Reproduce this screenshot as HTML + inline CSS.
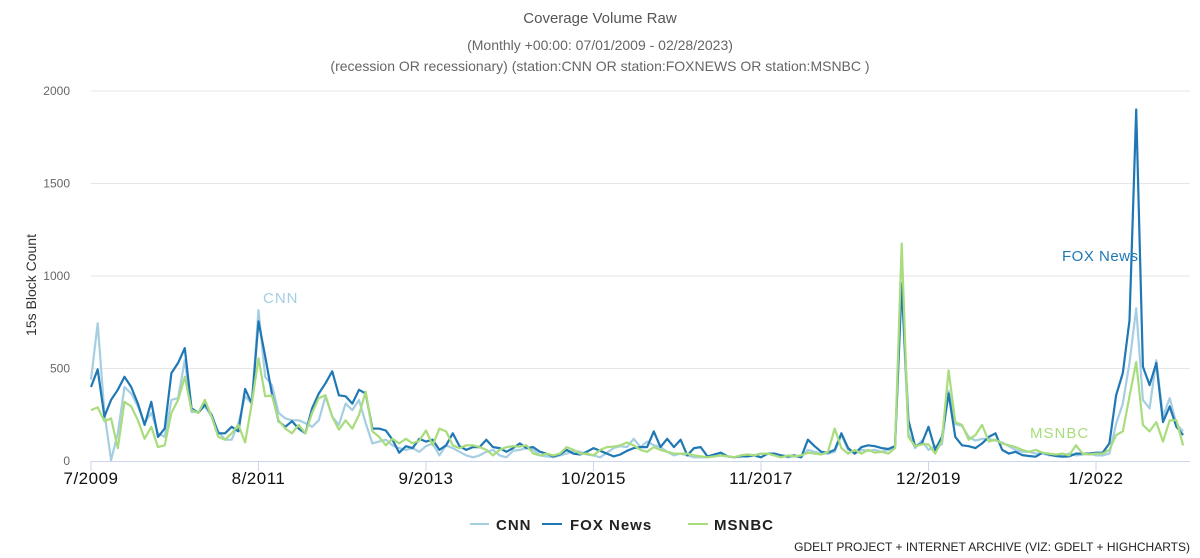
<!DOCTYPE html>
<html><head><meta charset="utf-8">
<style>
html,body{margin:0;padding:0;background:#fff;}
svg{display:block;font-family:"Liberation Sans Narrow","Liberation Sans",sans-serif;}
</style></head>
<body>
<svg id="chart" width="1200" height="558" viewBox="0 0 1200 558">
<text x="600" y="23" text-anchor="middle" font-size="15" fill="#555">Coverage Volume Raw</text>
<text x="600" y="50" text-anchor="middle" font-size="14" fill="#666">(Monthly +00:00: 07/01/2009 - 02/28/2023)</text>
<text x="600" y="71" text-anchor="middle" font-size="14" fill="#666">(recession OR recessionary) (station:CNN OR station:FOXNEWS OR station:MSNBC )</text>
<g id="grid"></g>
<g id="yticks"></g>
<text transform="translate(36,285) rotate(-90)" text-anchor="middle" font-size="14" fill="#333">15s Block Count</text>
<g id="xaxis"></g>
<g id="series"></g>
<text x="263" y="303" font-size="15" fill="#a6cee3" letter-spacing="1">CNN</text>
<text x="1062" y="261" font-size="15" fill="#1f78b4" letter-spacing="0.5">FOX News</text>
<text x="1030" y="438" font-size="15" fill="#a8dc7c" letter-spacing="1">MSNBC</text>
<g>
<g><line x1="470" y1="524" x2="489" y2="524" stroke="#a6cee3" stroke-width="2"/><text x="496" y="530" font-size="15" font-weight="bold" fill="#222" letter-spacing="1">CNN</text></g>
<g><line x1="542" y1="524" x2="562" y2="524" stroke="#1f78b4" stroke-width="2"/><text x="570" y="530" font-size="15" font-weight="bold" fill="#222" letter-spacing="1">FOX News</text></g>
<g><line x1="688" y1="524" x2="708" y2="524" stroke="#a8dc7c" stroke-width="2"/><text x="714" y="530" font-size="15" font-weight="bold" fill="#222" letter-spacing="1">MSNBC</text></g>
</g>
<text x="1190" y="551" text-anchor="end" font-size="12" fill="#222">GDELT PROJECT + INTERNET ARCHIVE (VIZ: GDELT + HIGHCHARTS)</text>
</svg>
<script>
const yTicks = [0, 500, 1000, 1500, 2000];
const xTickLabels = ["7/2009", "8/2011", "9/2013", "10/2015", "11/2017", "12/2019", "1/2022"];
const xTickIndex = [0, 25, 50, 75, 100, 125, 150];
const cnnValues = [440,745,260,5,150,400,365,295,205,260,150,130,330,340,545,265,265,295,240,160,115,115,205,350,310,815,455,410,260,230,220,220,205,185,220,350,240,195,310,275,330,205,95,105,115,85,70,
60,70,50,80,95,30,85,70,50,30,20,30,50,60,30,20,55,60,70,60,30,25,20,30,40,55,50,35,30,20,45,70,80,75,120,75,105,85,75,50,30,40,30,20,20,20,25,30,25,20,30,35,30,40,40,30,
30,20,25,20,60,50,40,40,50,140,60,40,60,55,60,50,60,70,950,150,70,110,60,80,90,380,200,190,130,110,120,120,110,100,80,60,50,50,40,40,30,30,30,40,30,35,40,30,30,40,200,310,530,825,330,285,545,240,340,200,160];
const foxValues = [400,495,240,330,385,455,400,310,195,320,130,175,475,530,610,285,260,305,250,150,150,185,160,390,310,755,565,365,215,185,215,175,150,285,365,420,485,355,350,310,385,365,175,175,165,115,45,
80,70,120,105,115,60,85,150,80,60,75,75,115,75,70,50,70,95,70,75,50,40,25,35,60,40,35,50,70,55,40,25,35,55,70,75,75,160,75,120,75,115,30,70,75,25,35,45,25,20,25,25,30,20,40,40,
30,25,30,20,115,80,50,45,60,150,70,40,75,85,80,70,65,80,960,220,80,95,185,60,130,365,130,85,80,70,95,130,150,60,40,50,32,27,23,45,35,27,23,25,40,40,40,45,45,95,355,475,760,1900,510,410,530,210,295,185,140];
const msnbcValues = [275,290,215,230,70,320,295,220,120,185,75,85,260,330,455,275,260,330,240,130,115,150,195,100,310,555,350,355,220,175,150,195,150,260,340,355,240,170,220,175,250,375,160,130,85,120,95,
120,95,110,165,85,175,160,85,70,85,85,75,60,30,60,75,80,78,85,40,30,40,30,40,75,60,40,40,30,60,75,78,85,100,85,60,50,75,60,50,40,40,40,30,25,20,25,30,25,20,30,35,30,40,40,30,
20,30,25,30,45,40,35,50,175,70,40,60,40,60,45,50,40,70,1175,130,80,90,90,40,110,490,210,195,115,140,195,105,115,95,85,75,60,50,60,45,40,35,40,30,85,40,35,40,40,60,140,160,350,535,195,160,210,105,220,220,85];

const NS = "http://www.w3.org/2000/svg";
const X0 = 91, DX = 6.7, Y0 = 461, YMAX = 2000, YTOP = 91;
function xs(i){ return X0 + i*DX; }
function ys(v){ return Y0 - v/YMAX*(Y0-YTOP); }
function mk(tag, attrs, parent){
  const e = document.createElementNS(NS, tag);
  for (const k in attrs) e.setAttribute(k, attrs[k]);
  parent.appendChild(e); return e;
}
const grid = document.getElementById('grid');
const yt = document.getElementById('yticks');
yTicks.forEach(v=>{
  if (v>0){
    const l = mk('line',{x1:X0,x2:1190,y1:ys(v),y2:ys(v),stroke:'#e6e6e6','stroke-width':1},grid);
    
    
  }
  const t = mk('text',{x:70,y:ys(v)+4,'text-anchor':'end','font-size':12,fill:'#666'},yt);
  t.textContent = v;
  
  
});
const xa = document.getElementById('xaxis');
const ax = mk('line',{x1:X0,x2:1190,y1:Y0+0.5,y2:Y0+0.5,stroke:'#ccd6eb','stroke-width':1},xa);


xTickLabels.forEach((lab,k)=>{
  const x = xs(xTickIndex[k]);
  const tk = mk('line',{x1:x,x2:x,y1:Y0,y2:Y0+10,stroke:'#ccd6eb','stroke-width':1},xa);
  
  
  const t = mk('text',{x:x,y:484,'text-anchor':'middle','font-size':17,fill:'#111','letter-spacing':0.5},xa);
  t.textContent = lab;
  
  
});
const sg = document.getElementById('series');
[[cnnValues,'#a6cee3','cnn-line'],[foxValues,'#1f78b4','fox-news-line'],[msnbcValues,'#a8dc7c','msnbc-line']].forEach(s=>{
  const d = s[0].map((v,i)=>(i?'L':'M')+xs(i).toFixed(1)+' '+ys(v).toFixed(1)).join(' ');
  const p = mk('path',{d:d,fill:'none',stroke:s[1],'stroke-width':2.2,'stroke-linejoin':'round'},sg);
  
  
});
</script>
</body></html>
